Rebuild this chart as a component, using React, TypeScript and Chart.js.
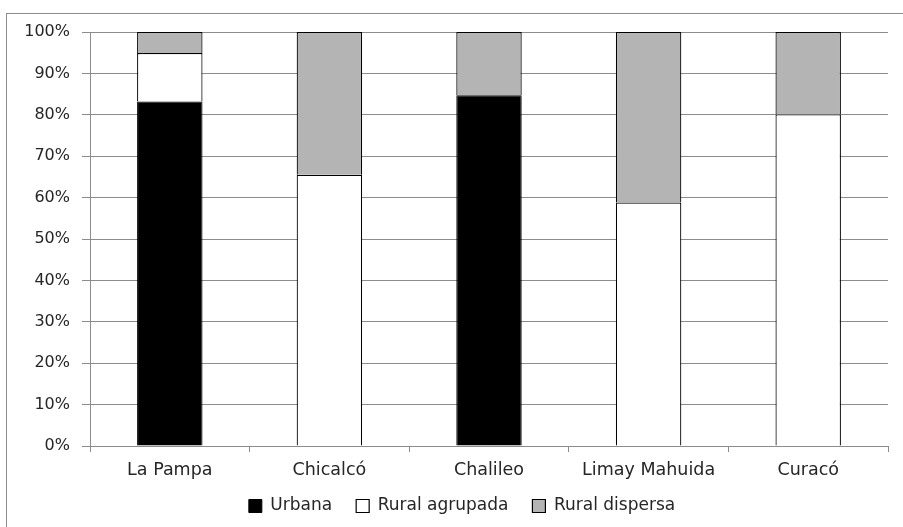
import React, { useEffect, useRef } from "react";
import { Chart, registerables } from "chart.js";

Chart.register(...registerables);

// Distribución de la población por tipo de asentamiento (%)
const departamentos = ["La Pampa", "Chicalcó", "Chalileo", "Limay Mahuida", "Curacó"];
const urbana = [83.2, 0, 84.7, 0, 0];
const ruralAgrupada = [11.7, 65.5, 0, 58.8, 80.1];
const ruralDispersa = [5.1, 34.5, 15.3, 41.2, 19.9];
const yTicks = [0, 10, 20, 30, 40, 50, 60, 70, 80, 90, 100];

const FONT = "'DejaVu Sans', sans-serif";
const TEXT = "#262626";
const GRID = "#8c8c8c";
const LEGEND_FONT = 17;
const LEGEND_PAD = 24;

// Places the legend row under the plot, centred on the outer chart frame.
const legendPlacement = {
  id: "legendPlacement",
  afterLayout(chart: any) {
    const lg = chart.legend;
    if (!lg) return;
    const itemH = Math.max(LEGEND_FONT, 13);
    const top = 506 - LEGEND_PAD - itemH / 2;
    const h = lg.height;
    lg.top = top;
    lg.bottom = top + h;
    lg.left = 36;
  },
};

export default function App() {
  const canvasRef = useRef<HTMLCanvasElement | null>(null);

  useEffect(() => {
    if (!canvasRef.current) return;
    const chart = new Chart(canvasRef.current, {
      type: "bar",
      data: {
        labels: departamentos,
        datasets: [
          {
            label: "Urbana",
            data: urbana,
            backgroundColor: "#000000",
            borderColor: "#000000",
            borderWidth: 1,
          },
          {
            label: "Rural agrupada",
            data: ruralAgrupada,
            backgroundColor: "#ffffff",
            borderColor: "#000000",
            borderWidth: 1.2,
          },
          {
            label: "Rural dispersa",
            data: ruralDispersa,
            backgroundColor: "#b4b4b4",
            borderColor: "#000000",
            borderWidth: 1.2,
          },
        ],
      },
      plugins: [legendPlacement],
      options: {
        animation: false,
        responsive: false,
        maintainAspectRatio: false,
        datasets: {
          bar: { barPercentage: 0.41, categoryPercentage: 1 },
        },
        layout: { padding: { left: 8, right: 15, top: 32, bottom: -7 } },
        plugins: {
          tooltip: { enabled: false },
          legend: {
            position: "bottom",
            labels: {
              font: { family: FONT, size: LEGEND_FONT },
              color: TEXT,
              boxWidth: 13,
              boxHeight: 13,
              padding: LEGEND_PAD,
            },
          },
        },
        scales: {
          x: {
            stacked: true,
            afterFit: (scale: any) => {
              scale.height = 37;
            },
            grid: {
              display: true,
              drawOnChartArea: false,
              drawTicks: true,
              tickLength: 6,
              color: GRID,
              offset: true,
            },
            border: { display: true, color: GRID },
            ticks: {
              font: { family: FONT, size: 17.5 },
              color: TEXT,
              padding: 8,
              maxRotation: 0,
            },
          },
          y: {
            stacked: true,
            min: 0,
            max: 100,
            afterBuildTicks: (scale: any) => {
              scale.ticks = yTicks.map((v) => ({ value: v }));
            },
            afterFit: (scale: any) => {
              scale.width = 82;
            },
            grid: {
              color: GRID,
              drawTicks: true,
              tickLength: 8,
            },
            border: { display: true, color: GRID },
            ticks: {
              font: { family: FONT, size: 16 },
              color: TEXT,
              padding: 12,
              callback: (v: any) => `${v}%`,
            },
          },
        },
      },
    });
    return () => chart.destroy();
  }, []);

  return (
    <div
      style={{
        position: "fixed",
        left: 0,
        top: 0,
        width: 903,
        height: 527,
        background: "#ffffff",
        overflow: "hidden",
      }}
    >
      <div
        style={{
          position: "absolute",
          left: 6,
          top: 13,
          width: 910,
          height: 530,
          borderTop: `1px solid ${GRID}`,
          borderLeft: `1px solid ${GRID}`,
          boxSizing: "border-box",
        }}
      />
      <canvas
        ref={canvasRef}
        width={903}
        height={527}
        style={{ position: "absolute", left: 0, top: 0, width: 903, height: 527 }}
      />
    </div>
  );
}
